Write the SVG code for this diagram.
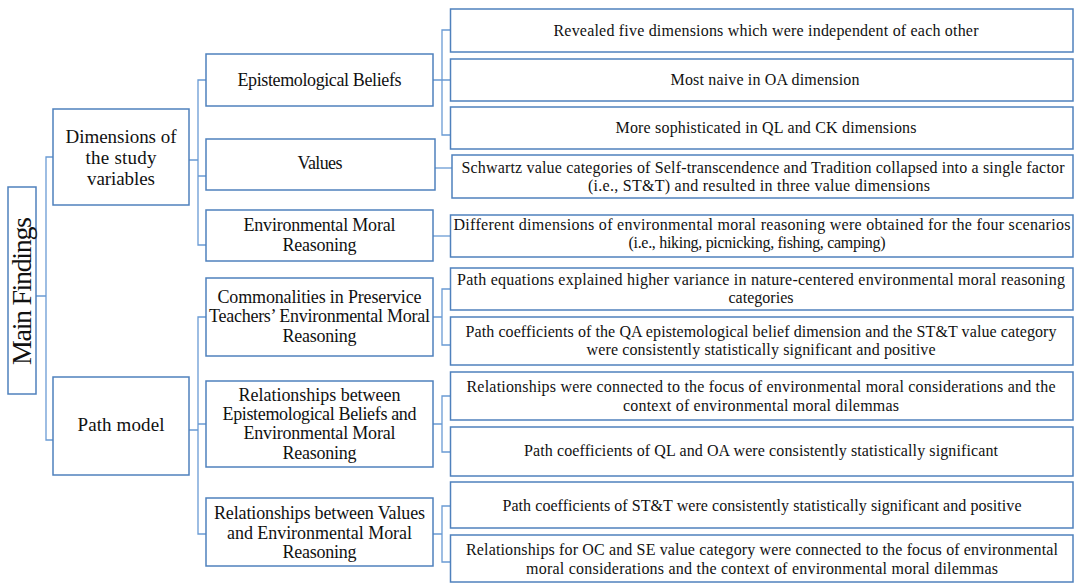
<svg xmlns="http://www.w3.org/2000/svg" width="1075" height="584" viewBox="0 0 1075 584">
<style>
.box{fill:#fff;stroke:#4F81BD;stroke-width:1.5}
.con{fill:none;stroke:#6A9BD4;stroke-width:1.3}
text{font-family:"Liberation Serif","Times New Roman",serif;fill:#111;text-anchor:middle}
.t3{font-size:16px}
.t2{font-size:18px}
.t1{font-size:19px}
.t0{font-size:28px}
</style>
<rect width="1075" height="584" fill="#fff"/>
<g id="connectors">
<path class="con" d="M36,296 H46 V157 H53 M46,296 V440 H53"/>
<path class="con" d="M189,160 H198 V80 H206 M198,160 V176 H206 M198,176 V245 H206"/>
<path class="con" d="M189,430 H198 V317 H206 M198,424 H206 M198,430 V534 H206"/>
<path class="con" d="M433,80 H442 V30 H450 M442,80 H450 M442,80 V135 H450"/>
<path class="con" d="M435,168 H452"/>
<path class="con" d="M433,236 H450"/>
<path class="con" d="M433,317 H442 V289 H450 M442,317 V345 H450"/>
<path class="con" d="M433,424 H442 V396 H450 M442,424 V452 H450"/>
<path class="con" d="M433,534 H442 V506 H450 M442,534 V562 H450"/>
</g>
<g id="main-findings">
<rect class="box" x="8" y="187" width="28" height="207"/>
<text class="t0" transform="translate(31,291) rotate(-90)" textLength="148">Main Findings</text>
</g>
<g id="dimensions">
<rect class="box" x="53" y="109" width="136" height="96"/>
<text class="t1" x="121" y="143" textLength="111">Dimensions of</text>
<text class="t1" x="121" y="164" textLength="71">the study</text>
<text class="t1" x="121" y="185" textLength="68">variables</text>
</g>
<g id="path-model">
<rect class="box" x="53" y="377" width="136" height="98"/>
<text class="t1" x="121" y="431" textLength="87">Path model</text>
</g>
<g id="epistemological-beliefs">
<rect class="box" x="206" y="54" width="227" height="52"/>
<text class="t2" x="319.5" y="86" textLength="164">Epistemological Beliefs</text>
</g>
<g id="values">
<rect class="box" x="206" y="139" width="229" height="51"/>
<text class="t2" x="320" y="169" textLength="45">Values</text>
</g>
<g id="env-moral-reasoning">
<rect class="box" x="206" y="210" width="227" height="51"/>
<text class="t2" x="319.5" y="231" textLength="152">Environmental Moral</text>
<text class="t2" x="319.5" y="251" textLength="74">Reasoning</text>
</g>
<g id="commonalities">
<rect class="box" x="206" y="278" width="227" height="78"/>
<text class="t2" x="319.5" y="303" textLength="204">Commonalities in Preservice</text>
<text class="t2" x="319.5" y="322" textLength="221">Teachers’ Environmental Moral</text>
<text class="t2" x="319.5" y="342" textLength="74">Reasoning</text>
</g>
<g id="rel-eb-emr">
<rect class="box" x="206" y="381" width="227" height="86"/>
<text class="t2" x="319.5" y="401" textLength="162">Relationships between</text>
<text class="t2" x="319.5" y="420" textLength="194">Epistemological Beliefs and</text>
<text class="t2" x="319.5" y="439" textLength="152">Environmental Moral</text>
<text class="t2" x="319.5" y="459" textLength="74">Reasoning</text>
</g>
<g id="rel-values-emr">
<rect class="box" x="206" y="498" width="227" height="68"/>
<text class="t2" x="319.5" y="519" textLength="211">Relationships between Values</text>
<text class="t2" x="319.5" y="539" textLength="185">and Environmental Moral</text>
<text class="t2" x="319.5" y="558" textLength="74">Reasoning</text>
</g>
<g id="eb-1">
<rect class="box" x="450.5" y="9" width="622.5" height="43"/>
<text class="t3" x="766" y="36" textLength="425">Revealed five dimensions which were independent of each other</text>
</g>
<g id="eb-2">
<rect class="box" x="450.5" y="59" width="622.5" height="42"/>
<text class="t3" x="765" y="85" textLength="189">Most naive in OA dimension</text>
</g>
<g id="eb-3">
<rect class="box" x="450.5" y="107" width="622.5" height="42"/>
<text class="t3" x="766" y="133" textLength="301">More sophisticated in QL and CK dimensions</text>
</g>
<g id="values-1">
<rect class="box" x="452" y="155" width="621" height="43"/>
<text class="t3" x="763" y="173" textLength="603">Schwartz value categories of Self-transcendence and Tradition collapsed into a single factor</text>
<text class="t3" x="759" y="191" textLength="342">(i.e., ST&amp;T) and resulted in three value dimensions</text>
</g>
<g id="emr-1">
<rect class="box" x="450.5" y="215" width="622.5" height="42"/>
<text class="t3" x="762" y="230" textLength="617">Different dimensions of environmental moral reasoning were obtained for the four scenarios</text>
<text class="t3" x="757" y="248" textLength="257">(i.e., hiking, picnicking, fishing, camping)</text>
</g>
<g id="comm-1">
<rect class="box" x="450.5" y="268" width="622.5" height="42"/>
<text class="t3" x="761" y="285" textLength="608">Path equations explained higher variance in nature-centered environmental moral reasoning</text>
<text class="t3" x="761" y="303" textLength="65">categories</text>
</g>
<g id="comm-2">
<rect class="box" x="450.5" y="317" width="622.5" height="48"/>
<text class="t3" x="761" y="337" textLength="591">Path coefficients of the QA epistemological belief dimension and the ST&amp;T value category</text>
<text class="t3" x="761" y="355" textLength="349">were consistently statistically significant and positive</text>
</g>
<g id="reb-1">
<rect class="box" x="450.5" y="372" width="622.5" height="48"/>
<text class="t3" x="761" y="392" textLength="589">Relationships were connected to the focus of environmental moral considerations and the</text>
<text class="t3" x="761" y="411" textLength="276">context of environmental moral dilemmas</text>
</g>
<g id="reb-2">
<rect class="box" x="450.5" y="427" width="622.5" height="49"/>
<text class="t3" x="761" y="456" textLength="474">Path coefficients of QL and OA were consistently statistically significant</text>
</g>
<g id="rv-1">
<rect class="box" x="450.5" y="482" width="622.5" height="46"/>
<text class="t3" x="762" y="511" textLength="519">Path coefficients of ST&amp;T were consistently statistically significant and positive</text>
</g>
<g id="rv-2">
<rect class="box" x="450.5" y="535" width="622.5" height="47"/>
<text class="t3" x="762" y="555" textLength="592">Relationships for OC and SE value category were connected to the focus of environmental</text>
<text class="t3" x="762" y="574" textLength="472">moral considerations and the context of environmental moral dilemmas</text>
</g>
</svg>
